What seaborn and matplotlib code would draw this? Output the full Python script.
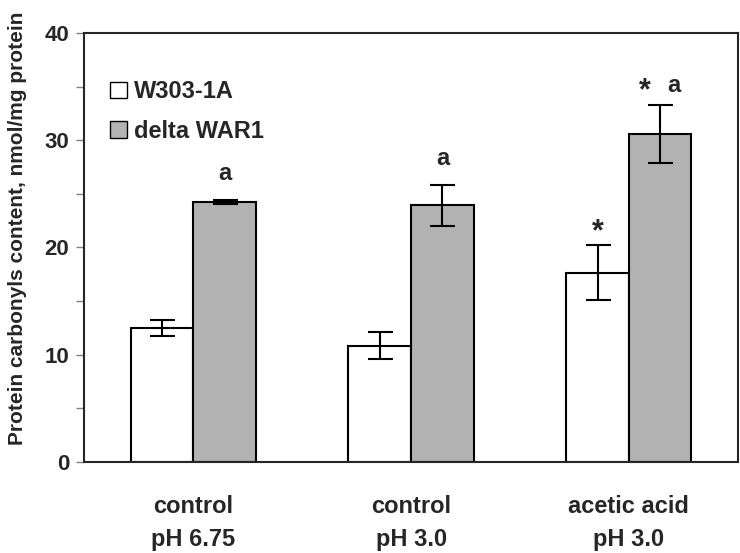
import matplotlib
matplotlib.use("Agg")
import matplotlib.pyplot as plt
import numpy as np
import pandas as pd
import seaborn as sns
from matplotlib.ticker import MultipleLocator

# data
conditions = ["control\npH 6.75", "control\npH 3.0", "acetic acid\npH 3.0"]
strains = ["W303-1A", "delta WAR1"]
w303_mean = [12.5, 10.85, 17.65]
w303_err = [0.75, 1.3, 2.55]
dwar1_mean = [24.25, 23.95, 30.6]
dwar1_err = [0.2, 1.9, 2.7]
stars_w303 = [False, False, True]
stars_dwar1 = [False, False, True]
letters_dwar1 = ["a", "a", "a"]

df = pd.DataFrame({
    "condition": conditions * 2,
    "strain": [strains[0]] * 3 + [strains[1]] * 3,
    "value": w303_mean + dwar1_mean,
})

sns.set_style("ticks")
plt.rcParams["font.family"] = ["Liberation Sans", "DejaVu Sans"]
plt.rcParams["font.weight"] = "bold"

fig, ax = plt.subplots(figsize=(7.4, 5.53), dpi=100)
fig.subplots_adjust(left=0.114, right=0.997, top=0.94, bottom=0.165)

sns.barplot(data=df, x="condition", y="value", hue="strain",
            palette=["white", "#b2b2b2"], edgecolor="black", linewidth=1.5,
            width=0.575, errorbar=None, ax=ax)

# error bars
centers = []
for i, (means, errs) in enumerate([(w303_mean, w303_err), (dwar1_mean, dwar1_err)]):
    xs = [p.get_x() + p.get_width() / 2 for p in ax.containers[i]]
    centers.append(xs)
    ax.errorbar(xs, means, yerr=errs, fmt="none", ecolor="black",
                elinewidth=1.5, capsize=9, capthick=1.5)

# significance marks
for j in range(len(conditions)):
    x0, x1 = centers[0][j], centers[1][j]
    top0 = w303_mean[j] + w303_err[j]
    top1 = dwar1_mean[j] + dwar1_err[j]
    if stars_w303[j]:
        ax.text(x0, top0 - 0.15, "*", ha="center", va="bottom",
                fontsize=22, fontweight="bold")
    if stars_dwar1[j]:
        ax.text(x1 - 0.07, top1 - 0.15, "*", ha="center", va="bottom",
                fontsize=22, fontweight="bold")
        ax.text(x1 + 0.065, top1 + 0.7, letters_dwar1[j], ha="center",
                va="bottom", fontsize=17, fontweight="bold")
    else:
        ax.text(x1, top1 + 1.35, letters_dwar1[j], ha="center", va="bottom",
                fontsize=17, fontweight="bold")

ax.set_ylim(0, 40)
ax.set_xlim(-0.5, 2.5)
ax.yaxis.set_major_locator(MultipleLocator(10))
ax.yaxis.set_minor_locator(MultipleLocator(5))
ax.tick_params(axis="y", which="both", direction="out", length=6,
               width=1, color="#808080", labelsize=16, pad=5)
ax.tick_params(axis="x", length=0, labelsize=17, pad=24)
for lab in ax.get_xticklabels():
    lab.set_linespacing(1.55)
    lab.set_fontweight("bold")
for lab in ax.get_yticklabels():
    lab.set_fontweight("bold")

for sp in ax.spines.values():
    sp.set_visible(True)
    sp.set_linewidth(1.5)

ax.set_xlabel("")
ax.set_ylabel("Protein carbonyls content, nmol/mg protein", fontsize=15,
              fontweight="bold")
ax.yaxis.set_label_coords(-0.088, 0.545)

leg = ax.legend(title=None, frameon=False, loc="upper left",
                bbox_to_anchor=(0.025, 0.912), fontsize=17,
                handlelength=0.7, handleheight=0.7, handletextpad=0.3,
                labelspacing=0.7, borderaxespad=0)
for h in leg.legend_handles:
    h.set_edgecolor("black")
    h.set_linewidth(1.0)

fig.savefig("out.png", dpi=100)
